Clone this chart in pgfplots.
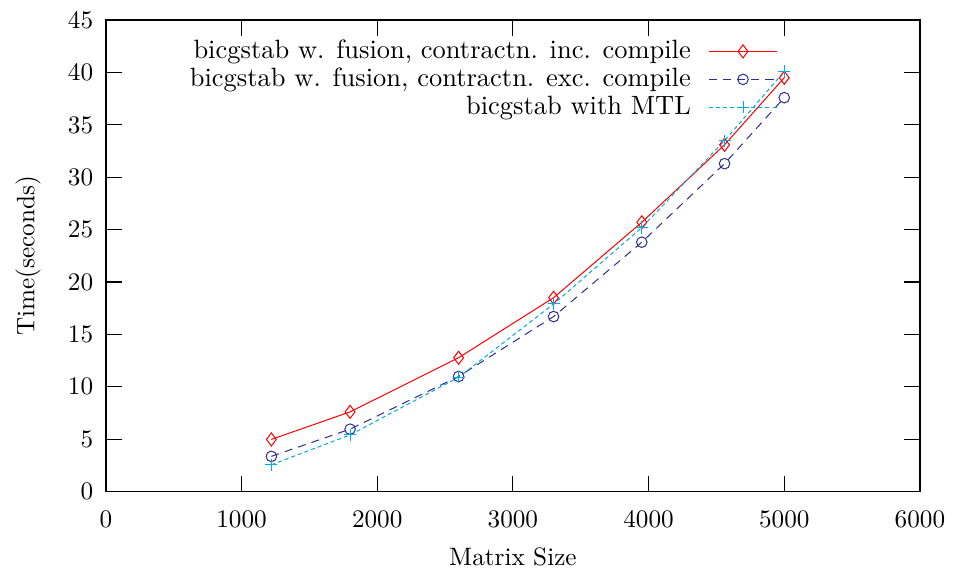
\documentclass[border=0pt]{standalone}
\usepackage{pgfplots}
\pgfplotsset{compat=1.18}
\definecolor{gpred}{RGB}{255,0,0}
\definecolor{gpnavy}{RGB}{45,45,150}
\definecolor{gpcyan}{RGB}{0,170,230}
\begin{document}
\begin{tikzpicture}
\begin{axis}[
    scale only axis,
    width=323pt, height=187pt,
    xmin=0, xmax=6000,
    ymin=0, ymax=45,
    xtick={0,1000,...,6000},
    ytick={0,5,...,45},
    major tick length=6.3pt,
    tick style={black, line width=0.4pt},
    axis line style={line width=0.6pt},
    scaled x ticks=false,
    xticklabel style={/pgf/number format/1000 sep={}, yshift=-4.5pt},
    yticklabel style={xshift=-1.5pt},
    xlabel={Matrix Size},
    ylabel={Time(seconds)},
    xlabel style={yshift=-1pt},
    ylabel style={yshift=4pt},
    legend cell align=right,
    legend plot pos=right,
    legend style={
        at={(0.835,0.98)}, anchor=north east,
        draw=none, fill=none,
        font=\fontsize{10.5}{12.6}\selectfont,
        row sep=-1.8pt,
        /tikz/every odd column/.append style={column sep=5pt},
    },
    legend image code/.code={
        \draw[#1] (0pt,0pt) -- (27pt,0pt);
        \draw[#1, only marks] plot coordinates {(13.5pt,0pt)};
    },
]
% including compile time
\addplot[color=gpred, line width=0.4pt, mark=diamond, mark size=2.6pt, mark options={solid}]
    coordinates {(1220,4.97)(1800,7.6)(2600,12.77)(3300,18.5)(3950,25.7)(4560,33.1)(5000,39.5)};
\addlegendentry{bicgstab w. fusion, contractn. inc. compile}
% excluding compile time
\addplot[color=gpnavy, line width=0.4pt, dash pattern=on 3.2pt off 2.4pt, mark=o, mark size=2.1pt, mark options={solid}]
    coordinates {(1220,3.35)(1800,5.95)(2600,10.98)(3300,16.7)(3950,23.8)(4560,31.3)(5000,37.6)};
\addlegendentry{bicgstab w. fusion, contractn. exc. compile}
% MTL
\addplot[color=gpcyan, line width=0.4pt, dash pattern=on 1.6pt off 1.2pt, mark=+, mark size=2.4pt, mark options={solid}]
    coordinates {(1220,2.55)(1800,5.4)(2600,10.9)(3300,17.9)(3950,25.2)(4560,33.5)(5000,40.1)};
\addlegendentry{bicgstab with MTL}
\end{axis}
\pgfresetboundingbox
\path[use as bounding box] ([shift={(-42pt,-32pt)}]current axis.south west) rectangle ([shift={(15.5pt,8pt)}]current axis.north east);
\end{tikzpicture}
\end{document}
